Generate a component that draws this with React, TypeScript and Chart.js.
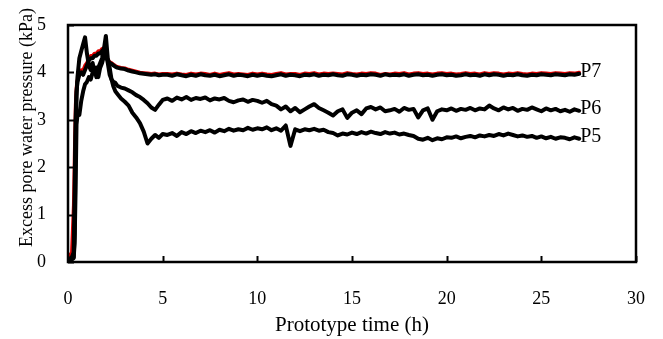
import React, { useEffect, useRef } from "react";
import { Chart, registerables } from "chart.js";

Chart.register(...registerables);

const xTitle = "Prototype time (h)";
const yTitle = "Excess pore water pressure (kPa)";
const xTicksMax = 30;
const yTicksMax = 5;

const times = [
  0, 0.1, 0.2, 0.3, 0.35, 0.4, 0.45, 0.5, 0.6, 0.7, 0.8, 0.9, 1, 1.1, 1.2, 1.3, 1.4, 1.5, 1.6, 1.7, 1.8, 1.9, 2,
  2.1, 2.2, 2.3, 2.4, 2.5, 2.6, 2.8, 3, 3.2, 3.4, 3.6, 3.8, 4, 4.2, 4.4, 4.6, 4.8, 5,
  5.25, 5.5, 5.75, 6, 6.25, 6.5, 6.75, 7, 7.25, 7.5, 7.75, 8, 8.25, 8.5, 8.75, 9, 9.25, 9.5, 9.75, 10,
  10.25, 10.5, 10.75, 11, 11.25, 11.5, 11.75, 12, 12.25, 12.5, 12.75, 13, 13.25, 13.5, 13.75, 14,
  14.25, 14.5, 14.75, 15, 15.25, 15.5, 15.75, 16, 16.25, 16.5, 16.75, 17, 17.25, 17.5, 17.75, 18,
  18.25, 18.5, 18.75, 19, 19.25, 19.5, 19.75, 20, 20.25, 20.5, 20.75, 21, 21.25, 21.5, 21.75, 22,
  22.25, 22.5, 22.75, 23, 23.25, 23.5, 23.75, 24, 24.25, 24.5, 24.75, 25, 25.25, 25.5, 25.75, 26,
  26.25, 26.5, 26.75, 27,
];

const p7Values = [
  0, 0.05, 0.1, 0.2, 1.5, 3.0, 3.6, 3.8, 3.95, 4.0, 3.95, 4.05, 4.15, 4.25, 4.3, 4.3, 4.35, 4.35, 4.4, 4.4, 4.45,
  4.5, 4.35, 4.25, 4.2, 4.18, 4.15, 4.12, 4.1, 4.08, 4.07, 4.04, 4.02, 4.0, 3.98, 3.97, 3.96, 3.95, 3.96, 3.94, 3.95,
  3.95, 3.93, 3.96, 3.94, 3.92, 3.95, 3.93, 3.96, 3.94, 3.93, 3.95, 3.92, 3.94, 3.96, 3.93, 3.95,
  3.94, 3.92, 3.95, 3.93, 3.95, 3.93, 3.92, 3.94, 3.96, 3.93, 3.95, 3.94, 3.92, 3.95, 3.94, 3.96,
  3.93, 3.95, 3.94, 3.96, 3.94, 3.93, 3.96, 3.95, 3.93, 3.95, 3.94, 3.96, 3.95, 3.93, 3.96, 3.94,
  3.95, 3.94, 3.96, 3.93, 3.95, 3.96, 3.94, 3.95, 3.93, 3.95, 3.96, 3.94, 3.95, 3.93, 3.94, 3.96,
  3.94, 3.95, 3.93, 3.96, 3.94, 3.96, 3.95, 3.93, 3.95, 3.94, 3.96, 3.94, 3.93, 3.95, 3.94, 3.96,
  3.95, 3.94, 3.96, 3.95, 3.94, 3.96, 3.95, 3.97,
];

const p7RedValues = [
  0.1, 0.15, 0.2, 1.2, 2.3, 3.3, 3.7, 3.85, 4.0, 4.05, 4.05, 4.15, 4.2, 4.3, 4.35, 4.35, 4.4, 4.4, 4.45, 4.45, 4.5,
  4.52, 4.38, 4.28, 4.22, 4.2, 4.17, 4.14, 4.12, 4.1, 4.09, 4.06, 4.04, 4.02, 4.0, 3.99, 3.98, 3.97, 3.98, 3.96, 3.97,
  3.97, 3.96, 3.98, 3.96, 3.95, 3.98, 3.96, 3.98, 3.97, 3.95, 3.98, 3.95, 3.97, 3.99, 3.96, 3.97,
  3.96, 3.95, 3.98, 3.96, 3.98, 3.96, 3.95, 3.97, 3.99, 3.96, 3.97, 3.97, 3.95, 3.98, 3.97, 3.99,
  3.96, 3.98, 3.97, 3.98, 3.97, 3.96, 3.99, 3.97, 3.96, 3.98, 3.97, 3.99, 3.98, 3.95, 3.97, 3.96,
  3.98, 3.97, 3.99, 3.96, 3.98, 3.99, 3.97, 3.98, 3.96, 3.98, 3.99, 3.97, 3.98, 3.96, 3.97, 3.99,
  3.97, 3.98, 3.96, 3.99, 3.97, 3.99, 3.98, 3.96, 3.98, 3.97, 3.99, 3.97, 3.96, 3.98, 3.97, 3.99,
  3.98, 3.97, 3.99, 3.98, 3.97, 3.99, 3.98, 4.0,
];

const p6Values = [
  0, 0.05, 0.08, 0.1, 0.6, 2.5, 3.5, 3.9, 4.3, 4.45, 4.6, 4.74, 4.4, 4.15, 4.05, 4.2, 4.0, 4.1, 3.9, 4.1, 4.2,
  4.35, 4.4, 4.2, 3.95, 3.85, 3.8, 3.78, 3.72, 3.68, 3.66, 3.62, 3.58, 3.52, 3.48, 3.42, 3.35, 3.26, 3.21, 3.32, 3.42,
  3.45, 3.4, 3.47, 3.43, 3.48, 3.42, 3.46, 3.44, 3.47, 3.41, 3.45, 3.43, 3.46, 3.4, 3.37, 3.41,
  3.43, 3.38, 3.42, 3.4, 3.36, 3.4, 3.33, 3.3, 3.22, 3.28, 3.18, 3.25, 3.16, 3.22, 3.28, 3.33,
  3.25, 3.2, 3.15, 3.09, 3.18, 3.22, 3.04, 3.15, 3.2, 3.12, 3.24, 3.27, 3.22, 3.26, 3.18, 3.2,
  3.23, 3.17, 3.25, 3.21, 3.23, 3.05, 3.2, 3.24, 3.0, 3.18, 3.22, 3.2, 3.24, 3.19, 3.23, 3.21,
  3.25, 3.2, 3.24, 3.22, 3.3, 3.24, 3.2, 3.26, 3.22, 3.25, 3.19, 3.23, 3.21, 3.26, 3.22, 3.18,
  3.24, 3.2, 3.23, 3.18, 3.21, 3.17, 3.22, 3.19,
];

const p5Values = [
  0, 0.03, 0.05, 0.08, 0.4, 1.5, 2.9, 3.1, 3.1, 3.4, 3.6, 3.75, 3.8, 3.9, 3.85, 4.0, 4.05, 3.9, 4.1, 4.2, 4.3,
  4.5, 4.77, 4.3, 4.1, 3.85, 3.7, 3.6, 3.55, 3.45, 3.38, 3.3, 3.15, 3.05, 2.93, 2.75, 2.5, 2.6, 2.68, 2.62, 2.7,
  2.68, 2.72, 2.66, 2.74, 2.7, 2.76, 2.72, 2.77, 2.74, 2.78, 2.73, 2.79, 2.76, 2.81, 2.77, 2.8,
  2.78, 2.83, 2.79, 2.82, 2.8, 2.84, 2.78, 2.82, 2.77, 2.88, 2.45, 2.8, 2.76, 2.8, 2.78, 2.81,
  2.77, 2.79, 2.74, 2.72, 2.67, 2.71, 2.69, 2.73, 2.7, 2.74, 2.71, 2.75, 2.72, 2.7, 2.74, 2.71,
  2.73, 2.69, 2.71, 2.68, 2.66, 2.6, 2.58, 2.62, 2.57, 2.61, 2.59, 2.63, 2.62, 2.65, 2.61, 2.64,
  2.66, 2.63, 2.67, 2.65, 2.68, 2.66, 2.7, 2.67, 2.71, 2.68, 2.65, 2.67, 2.64, 2.66, 2.62, 2.65,
  2.61, 2.64, 2.6, 2.63, 2.62, 2.59, 2.63, 2.6,
];

const seriesLabels = ["P7", "P6", "P5"];

const FONT = '"Liberation Serif", "Times New Roman", serif';

function pts(values: number[]) {
  return values.map((v, i) => ({ x: times[i], y: v }));
}

const framePlugin = {
  id: "frame",
  afterDatasetsDraw(chart: any) {
    const { ctx, chartArea: a, scales } = chart;
    ctx.save();
    ctx.strokeStyle = "#000";
    ctx.lineWidth = 2.5;
    ctx.strokeRect(a.left, a.top, a.right - a.left, a.bottom - a.top);
    ctx.lineWidth = 2;
    scales.x.ticks.forEach((t: any) => {
      const px = Math.round(scales.x.getPixelForValue(t.value)) + 0.5;
      ctx.beginPath();
      ctx.moveTo(px, a.bottom);
      ctx.lineTo(px, a.bottom - 6);
      ctx.stroke();
    });
    scales.y.ticks.forEach((t: any) => {
      const py = Math.round(scales.y.getPixelForValue(t.value)) + 0.5;
      ctx.beginPath();
      ctx.moveTo(a.left, py);
      ctx.lineTo(a.left + 6, py);
      ctx.stroke();
    });
    ctx.fillStyle = "#000";
    ctx.font = "20px " + FONT;
    ctx.textAlign = "left";
    ctx.textBaseline = "middle";
    chart.data.datasets.forEach((ds: any) => {
      if (!ds.endLabel) return;
      const last = ds.data[ds.data.length - 1];
      ctx.fillText(ds.endLabel, scales.x.getPixelForValue(last.x) + 1, scales.y.getPixelForValue(last.y) - 2);
    });
    ctx.translate(27, (a.top + a.bottom) / 2 - 16);
    ctx.rotate(-Math.PI / 2);
    ctx.font = "18px " + FONT;
    ctx.textAlign = "center";
    ctx.fillText(yTitle, 0, 0);
    ctx.restore();
  },
};

export default function App() {
  const ref = useRef<HTMLCanvasElement>(null);
  useEffect(() => {
    if (!ref.current) return;
    const chart = new Chart(ref.current, {
      type: "line",
      data: {
        datasets: [
          { label: seriesLabels[0], endLabel: seriesLabels[0], data: pts(p7Values), borderColor: "#000", borderWidth: 4, pointRadius: 0, order: 1 } as any,
          { label: "P7 (red)", data: pts(p7RedValues), borderColor: "#e00000", borderWidth: 3.5, pointRadius: 0, order: 3 } as any,
          { label: seriesLabels[1], endLabel: seriesLabels[1], data: pts(p6Values), borderColor: "#000", borderWidth: 4, pointRadius: 0, order: 1 } as any,
          { label: seriesLabels[2], endLabel: seriesLabels[2], data: pts(p5Values), borderColor: "#000", borderWidth: 4, pointRadius: 0, order: 1 } as any,
        ],
      },
      options: {
        animation: false,
        responsive: false,
        devicePixelRatio: 1,
        layout: { padding: { top: 25, right: 24, bottom: 1, left: 0 } },
        plugins: { legend: { display: false }, tooltip: { enabled: false } },
        elements: { line: { tension: 0, borderJoinStyle: "round", borderCapStyle: "round" } },
        scales: {
          x: {
            type: "linear",
            min: 0,
            max: xTicksMax,
            grid: { display: false },
            border: { display: false },
            ticks: { stepSize: 5, color: "#000", font: { family: FONT, size: 18 }, padding: 18, maxRotation: 0 },
            title: { display: true, text: xTitle, color: "#000", font: { family: FONT, size: 21 }, padding: 0 },
            afterFit: (s: any) => { s.height = 76; },
          },
          y: {
            type: "linear",
            min: 0,
            max: yTicksMax,
            grid: { display: false },
            border: { display: false },
            ticks: { stepSize: 1, color: "#000", font: { family: FONT, size: 18 }, padding: 14 },
            afterFit: (s: any) => { s.width = 68; },
          },
        },
      },
      plugins: [framePlugin],
    } as any);
    return () => chart.destroy();
  }, []);
  return (
    <div style={{ position: "fixed", left: 0, top: 0, width: 663, height: 339, background: "#fff" }}>
      <canvas ref={ref} width={663} height={339} style={{ display: "block" }} />
    </div>
  );
}
